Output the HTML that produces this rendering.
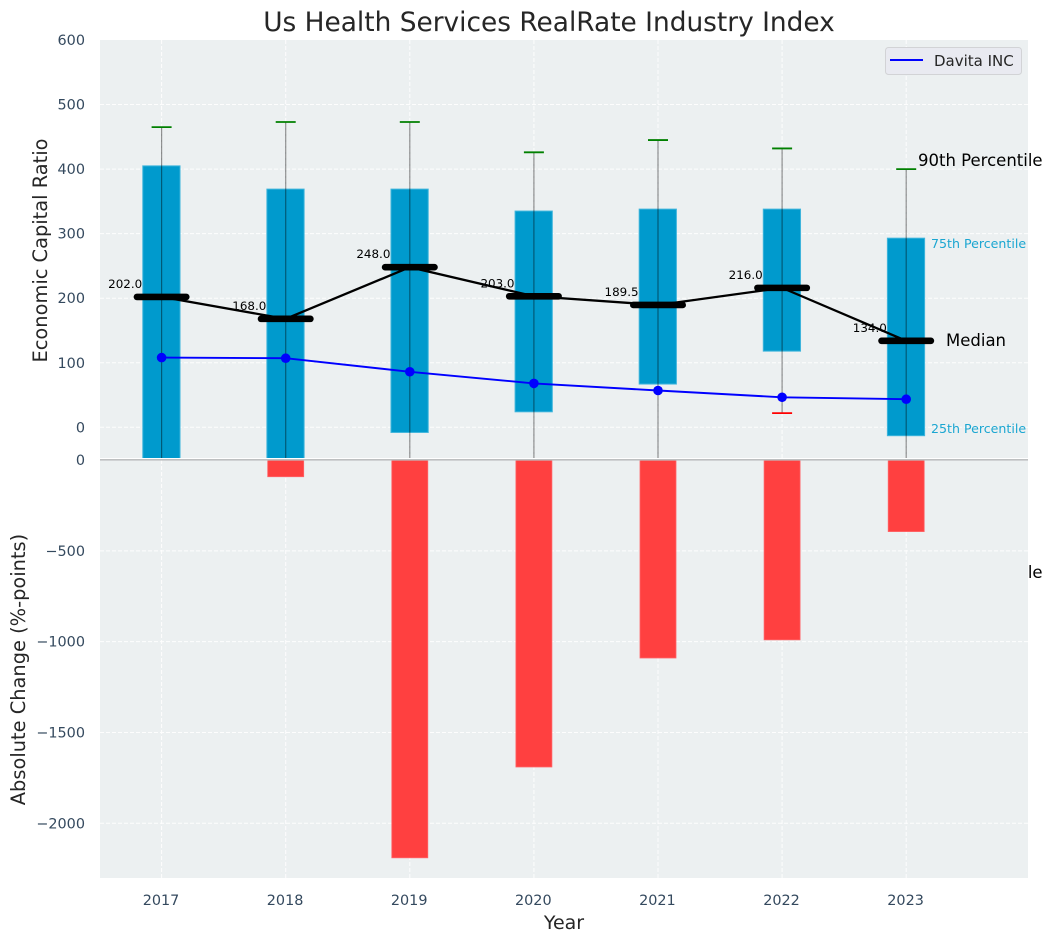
<!DOCTYPE html>
<html lang="en">
<head>
<meta charset="utf-8">
<title>Us Health Services RealRate Industry Index</title>
<style>
html,body{margin:0;padding:0;background:#fff;width:1053px;height:942px;overflow:hidden}
svg{display:block;font-family:"DejaVu Sans","Liberation Sans",sans-serif}
</style>
</head>
<body>
<svg id="chart" xmlns="http://www.w3.org/2000/svg" width="1053" height="942" viewBox="0 0 1053 942">
  <defs>
    <clipPath id="top-clip"><rect x="100" y="40" width="928" height="418"></rect></clipPath>
    <clipPath id="bottom-clip"><rect x="100" y="460" width="928" height="418"></rect></clipPath>
  </defs>
  <rect x="100" y="40" width="928" height="418" fill="#ECF0F1"></rect>
  <text x="918" y="578" font-size="16.5" fill="#000">10th Percentile</text>
  <rect x="100" y="460" width="928" height="418" fill="#ECF0F1"></rect>
  <g id="grid"></g>
  <g id="bottom-marks" clip-path="url(#bottom-clip)"></g>
  <g id="top-marks" clip-path="url(#top-clip)"></g>
  <rect x="100" y="459" width="928" height="1.6" fill="#BDBFC0"></rect>
  <g id="ticks"></g>
  <g id="labels"></g>
  <text x="549" y="31" font-size="26.4" fill="#262626" text-anchor="middle">Us Health Services RealRate Industry Index</text>
  <text transform="translate(47,250.5) rotate(-90)" font-size="19.4" fill="#262626" text-anchor="middle">Economic Capital Ratio</text>
  <text transform="translate(25,669.5) rotate(-90)" font-size="19.4" fill="#262626" text-anchor="middle">Absolute Change (%-points)</text>
  <text x="564" y="929" font-size="19" fill="#262626" text-anchor="middle">Year</text>
  <text x="918" y="166" font-size="16.5" fill="#000">90th Percentile</text>
  <text x="931" y="248" font-size="12.6" fill="#1BA6D1">75th Percentile</text>
  <text x="946" y="346" font-size="16.5" fill="#000">Median</text>
  <text x="931" y="433" font-size="12.6" fill="#1BA6D1">25th Percentile</text>
  <g>
    <rect x="885.5" y="47.5" width="136" height="27" rx="3" fill="#E9EAF1" stroke="#D2D3D6" stroke-width="1"></rect>
    <line x1="890" y1="60" x2="923" y2="60" stroke="#0000FF" stroke-width="2"></line>
    <text x="934" y="66" font-size="15" fill="#262626">Davita INC</text>
  </g>
</svg>
<script>
const years = [2017, 2018, 2019, 2020, 2021, 2022, 2023];
const p90 = [465, 473, 473, 426, 445, 432, 400];
const p75 = [405, 369, 369, 335, 338, 338, 293];
const medians = [202, 168, 248, 203, 189.5, 216, 134];
const p25 = [-60, -60, -8, 24, 67, 118, -13];
const p10 = [-120, -120, -120, -120, -120, 22, -120];
const davita = [108, 107, 86, 68, 57, 46.5, 43.5];
const absChange = [0, -92, -2190, -1690, -1090, -990, -394];
const topTicks = [0, 100, 200, 300, 400, 500, 600];
const bottomTicks = [0, -500, -1000, -1500, -2000];
const medianText = ['202.0', '168.0', '248.0', '203.0', '189.5', '216.0', '134.0'];

const NS = 'http://www.w3.org/2000/svg';
function xScale(year) { return 161.6 + (year - 2017) * 124.1; }
function yTop(v) { return 427.3 - v * 0.6455; }
function yBottom(v) { return 460 - v * 0.18165; }
function make(tag, attrs, parent, text) {
  const node = document.createElementNS(NS, tag);
  for (const k in attrs) node.setAttribute(k, attrs[k]);
  if (text !== undefined) node.textContent = text;
  parent.appendChild(node);
  return node;
}
const grid = document.getElementById('grid');
const ticks = document.getElementById('ticks');
const topG = document.getElementById('top-marks');
const botG = document.getElementById('bottom-marks');
const labels = document.getElementById('labels');
const dash = '4 2';
const fmt = v => (v < 0 ? '\u2212' + Math.abs(v) : String(v));

topTicks.forEach(t => {
  const y = yTop(t);
  if (t !== 600) {
    const g = make('line', {x1: 100, x2: 1028, y1: y, y2: y, stroke: '#fff', 'stroke-width': 1, 'stroke-dasharray': dash, opacity: 0.9}, grid);
    
    
  }
  const l = make('text', {x: 85, y: y + 5, 'text-anchor': 'end', 'font-size': 14.4, fill: '#34495E'}, ticks, fmt(t));
  
  
});
bottomTicks.forEach(t => {
  const y = yBottom(t);
  if (t !== 0) {
    const g = make('line', {x1: 100, x2: 1028, y1: y, y2: y, stroke: '#fff', 'stroke-width': 1, 'stroke-dasharray': dash, opacity: 0.9}, grid);
    
    
  }
  const l = make('text', {x: 85, y: y + 5, 'text-anchor': 'end', 'font-size': 14.4, fill: '#34495E'}, ticks, fmt(t));
  
  
});
years.forEach(yr => {
  const x = xScale(yr);
  const g1 = make('line', {x1: x, x2: x, y1: 40, y2: 458, stroke: '#fff', 'stroke-width': 1, 'stroke-dasharray': dash, opacity: 0.9}, grid);
  
  
  const g2 = make('line', {x1: x, x2: x, y1: 460, y2: 878, stroke: '#fff', 'stroke-width': 1, 'stroke-dasharray': dash, opacity: 0.9}, grid);
  
  
  const l = make('text', {x: x - 0.6, y: 905, 'text-anchor': 'middle', 'font-size': 14.4, fill: '#34495E'}, ticks, String(yr));
  
  
});

const boxW = 0.3 * 124.1;
const redW = 0.29 * 124.1;

years.forEach((yr, i) => {
  const x = xScale(yr);
  const yA = yBottom(0);
  const yB = yBottom(absChange[i]);
  if (absChange[i] !== 0) {
    const r = make('rect', {x: x - redW / 2, y: yA, width: redW, height: yB - yA, fill: '#FF4040', stroke: '#FF6468', 'stroke-width': 0.8}, botG);
    
    
  }
  const y75 = yTop(p75[i]);
  const y25 = yTop(p25[i]);
  const box = make('rect', {x: x - boxW / 2 - 0.2, y: y75, width: boxW, height: y25 - y75, fill: '#009ACD', stroke: '#3FB5DC', 'stroke-width': 1}, topG);
  
  
  const w = make('line', {x1: x, x2: x, y1: yTop(p90[i]), y2: yTop(p10[i]), stroke: '#000', 'stroke-width': 1.2, opacity: 0.42}, topG);
  
  
  const capHi = make('line', {x1: x - 10, x2: x + 10, y1: yTop(p90[i]), y2: yTop(p90[i]), stroke: '#008000', 'stroke-width': 1.8}, topG);
  
  
  const capLo = make('line', {x1: x - 10, x2: x + 10, y1: yTop(p10[i]), y2: yTop(p10[i]), stroke: '#FF0000', 'stroke-width': 1.8}, topG);
  
  
});

const medPts = years.map((yr, i) => xScale(yr) + ',' + yTop(medians[i])).join(' ');
const medLine = make('polyline', {points: medPts, fill: 'none', stroke: '#000', 'stroke-width': 2.3}, topG);



const davPts = years.map((yr, i) => xScale(yr) + ',' + yTop(davita[i])).join(' ');
const davLine = make('polyline', {points: davPts, fill: 'none', stroke: '#0000FF', 'stroke-width': 1.9}, topG);



years.forEach((yr, i) => {
  const x = xScale(yr);
  const m = make('line', {x1: x - 24.7, x2: x + 24.7, y1: yTop(medians[i]), y2: yTop(medians[i]), stroke: '#000', 'stroke-width': 6.6, 'stroke-linecap': 'round'}, topG);
  
  
  const c = make('circle', {cx: x, cy: yTop(davita[i]), r: 4.8, fill: '#0000FF'}, topG);
  
  
  const t = make('text', {x: x - 19.4, y: yTop(medians[i]) - 9, 'text-anchor': 'end', 'font-size': 11.9, fill: '#000'}, labels, medianText[i]);
  
  
});
</script>
</body>
</html>
